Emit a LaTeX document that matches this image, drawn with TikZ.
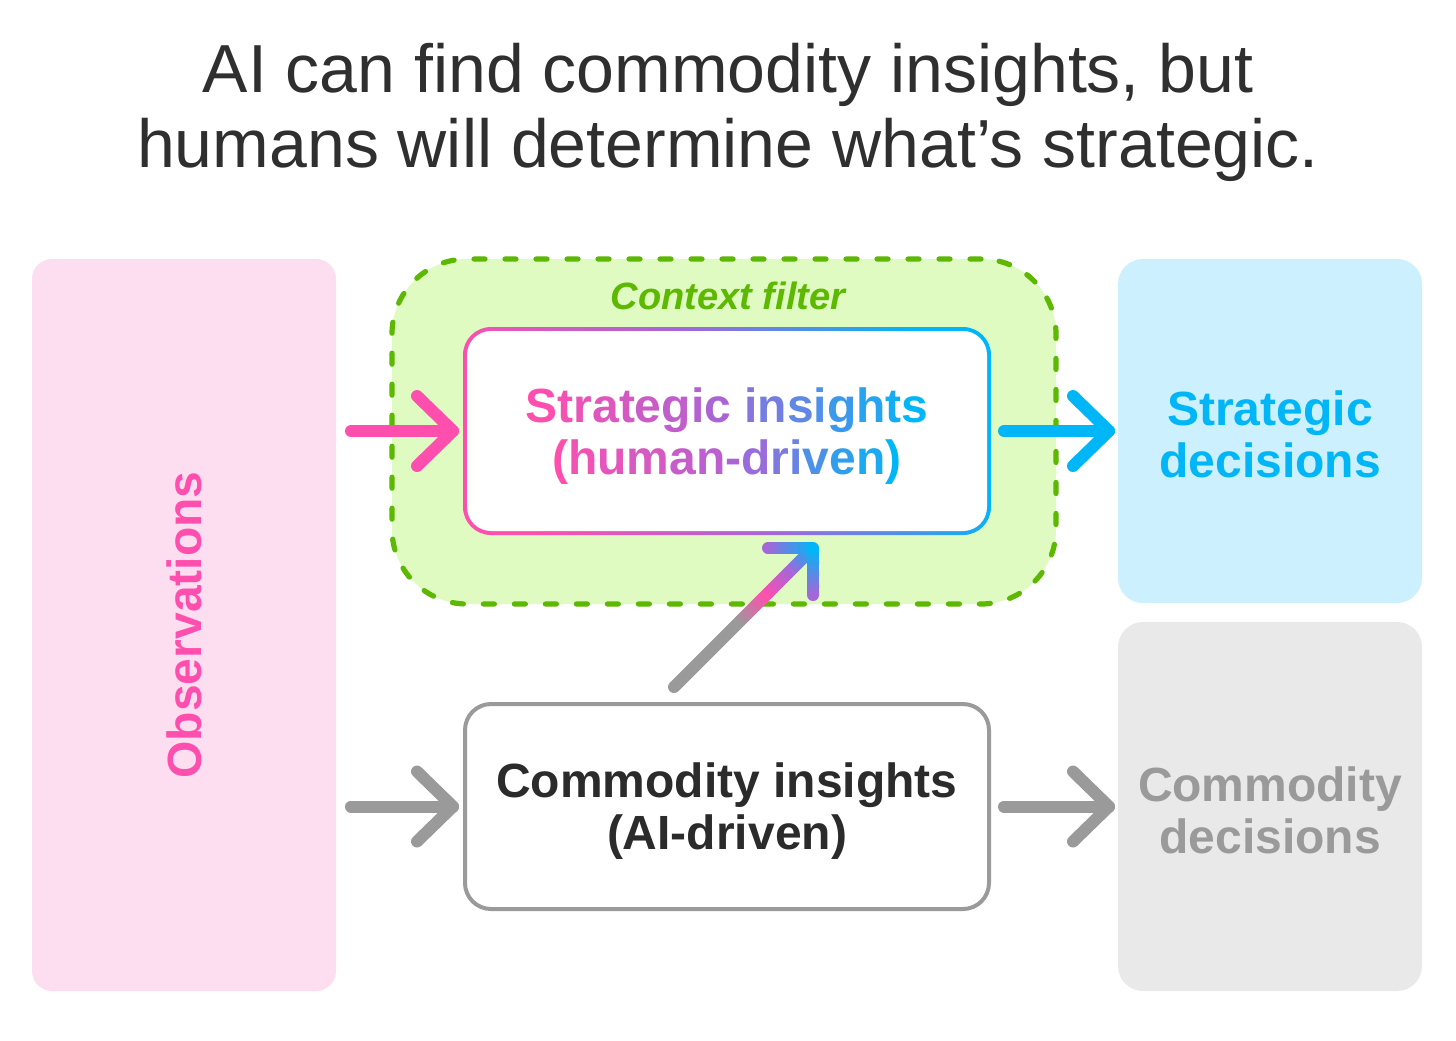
\documentclass[tikz,border=0pt]{standalone}
\usepackage{fontspec}
\setmainfont{Liberation Sans}
\usetikzlibrary{calc}
\definecolor{pinkc}{HTML}{FF4FAE}
\definecolor{bluec}{HTML}{00B6F6}
\definecolor{purplec}{HTML}{A566D8}
\definecolor{greenc}{HTML}{5CB800}
\definecolor{greenfill}{HTML}{E0FBC2}
\definecolor{pinkfill}{HTML}{FDDEF0}
\definecolor{bluefill}{HTML}{CCF0FD}
\definecolor{grayfill}{HTML}{E9E9E9}
\definecolor{grayc}{HTML}{9A9A9A}
\definecolor{darkc}{HTML}{2B2B2B}
\definecolor{titlec}{HTML}{2F2F2F}
% gradient-coloured letter: #1 = position 0..100
\newcommand\gc[2]{{\ifnum#1<50\relax\pgfmathtruncatemacro\gp{#1*2}\color{purplec!\gp!pinkc}\else\pgfmathtruncatemacro\gp{(#1-50)*2}\color{bluec!\gp!purplec}\fi#2}}
% gradient stroke from coordinate #1 to #2, colour #3 to #4, #5 pieces
\newcommand\gradseg[5]{%
  \foreach \k in {1,...,#5}{%
    \pgfmathsetmacro\ga{max(0,(\k-1)/#5-0.02)}%
    \pgfmathsetmacro\gb{\k/#5}%
    \pgfmathtruncatemacro\gp{100*(\k-0.5)/#5}%
    \draw[line width=6pt, line cap=butt, draw={#4!\gp!#3}] ($(#1)!\ga!(#2)$) -- ($(#1)!\gb!(#2)$);
  }}
\begin{document}
\begin{tikzpicture}[x=0.5pt,y=-0.5pt,
  box/.style={rectangle, inner sep=0pt, outer sep=0pt},
  arr/.style={line width=6pt, line cap=round, line join=round},
  lbl/.style={font=\fontsize{24pt}{26pt}\selectfont\bfseries, align=center, inner sep=0pt},
  ttl/.style={font=\fontsize{34pt}{38pt}\selectfont, text=titlec, anchor=base, inner sep=0pt},
]
\fill[white] (0,0) rectangle (1456,1040);
\useasboundingbox (0,0) rectangle (1456,1040);

% title
\node[ttl] (t1) at (728,92) {AI can find commodity insights, but};
\node[ttl] (t2) at (728,167) {humans will determine what’s strategic.};

% observations
\node[box, fill=pinkfill, rounded corners=10pt, minimum width=152pt, minimum height=366pt] (obs) at (184,625) {};
\node[lbl, text=pinkc, rotate=90] (obsl) at (184,625) {Observations};

% context filter
\node[box, fill=greenfill, draw=greenc, line width=2.6pt, dash pattern=on 5.5pt off 10pt, line cap=round, rounded corners=37.5pt, minimum width=332pt, minimum height=172.5pt] (ctx) at (724,431.5) {};
\node[font=\fontsize{19pt}{19pt}\selectfont\bfseries\itshape, text=greenc, inner sep=0pt] (ctxl) at (728,296) {Context filter};

% strategic insights (gradient border)
\node[box, minimum width=262pt, minimum height=102pt] (si) at (727,431) {};
\shade[rounded corners=14pt, bottom color=pinkc, top color=bluec, middle color=purplec, shading angle=-65]
  ($(si.south west)+(-2,2)$) rectangle ($(si.north east)+(2,-2)$);
\fill[white, rounded corners=12pt] ($(si.south west)+(2,-2)$) rectangle ($(si.north east)+(-2,2)$);
\node[lbl] (sil) at (727,436) {\gc{0}{S}\gc{6}{t}\gc{12}{r}\gc{18}{a}\gc{24}{t}\gc{29}{e}\gc{35}{g}\gc{41}{i}\gc{47}{c} \gc{59}{i}\gc{65}{n}\gc{71}{s}\gc{76}{i}\gc{82}{g}\gc{88}{h}\gc{94}{t}\gc{100}{s}\\
\gc{0}{(}\gc{8}{h}\gc{15}{u}\gc{23}{m}\gc{31}{a}\gc{38}{n}\gc{46}{-}\gc{54}{d}\gc{62}{r}\gc{69}{i}\gc{77}{v}\gc{85}{e}\gc{92}{n}\gc{100}{)}};

% strategic decisions
\node[box, fill=bluefill, rounded corners=12.5pt, minimum width=152pt, minimum height=172pt] (sd) at (1270,431) {};
\node[lbl, text=bluec] (sdl) at (1270,434) {Strategic\\decisions};

% commodity insights
\node[box, fill=white, draw=grayc, line width=2pt, rounded corners=13pt, minimum width=262pt, minimum height=102.5pt] (ci) at (727,806.5) {};
\node[lbl, text=darkc] (cil) at (727,811) {Commodity insights\\(AI-driven)};

% commodity decisions
\node[box, fill=grayfill, rounded corners=12.5pt, minimum width=152pt, minimum height=184.5pt] (cd) at (1270,806.5) {};
\node[lbl, text=grayc] (cdl) at (1270,810) {Commodity\\decisions};

% horizontal arrows
\coordinate (pa1) at ($(obs.east|-si.west)+(15,0)$);
\coordinate (pa2) at ($(si.west)+(-12,0)$);
\draw[arr, pinkc] (pa1) -- (pa2);
\draw[arr, pinkc] ($(pa2)+(-36,-35)$) -- (pa2) -- ($(pa2)+(-36,35)$);

\coordinate (ba1) at ($(si.east)+(15,0)$);
\coordinate (ba2) at ($(sd.west|-si.east)+(-9,0)$);
\draw[arr, bluec] (ba1) -- (ba2);
\draw[arr, bluec] ($(ba2)+(-36,-35)$) -- (ba2) -- ($(ba2)+(-36,35)$);

\coordinate (ga1) at ($(obs.east|-ci.west)+(15,0)$);
\coordinate (ga2) at ($(ci.west)+(-12,0)$);
\draw[arr, grayc] (ga1) -- (ga2);
\draw[arr, grayc] ($(ga2)+(-36,-35)$) -- (ga2) -- ($(ga2)+(-36,35)$);

\coordinate (gb1) at ($(ci.east)+(15,0)$);
\coordinate (gb2) at ($(cd.west|-ci.east)+(-9,0)$);
\draw[arr, grayc] (gb1) -- (gb2);
\draw[arr, grayc] ($(gb2)+(-36,-35)$) -- (gb2) -- ($(gb2)+(-36,35)$);

% diagonal arrow from commodity insights to strategic insights
\coordinate (dS) at ($(ci.north)+(-53,-17)$);
\coordinate (dT) at ($(si.south)+(86,15)$);
\coordinate (dP1) at ($(dS)!0.47!(dT)$);
\coordinate (dP2) at ($(dS)!0.66!(dT)$);
\coordinate (dP3) at ($(dS)!0.84!(dT)$);
\coordinate (dH1) at ($(dT)+(-45,0)$);
\coordinate (dH2) at ($(dT)+(0,47)$);
\draw[arr, grayc] (dS) -- (dP1);
\gradseg{dP1}{dP2}{grayc}{pinkc}{10}
\gradseg{dP2}{dP3}{pinkc}{purplec}{10}
\gradseg{dP3}{dT}{purplec}{bluec}{10}
\fill[purplec] (dH1) circle (3pt);
\fill[purplec] (dH2) circle (3pt);
\gradseg{dH1}{dT}{purplec}{bluec}{12}
\gradseg{dH2}{dT}{purplec}{bluec}{12}
\fill[bluec] (dT) circle (3pt);
\end{tikzpicture}
\end{document}
